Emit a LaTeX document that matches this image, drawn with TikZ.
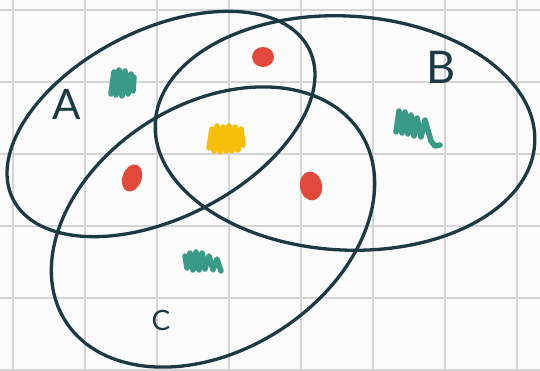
\documentclass[tikz,border=0pt]{standalone}
\usepackage{fontspec}
\setmainfont{Lato}
\usepackage{tikz}
\usetikzlibrary{positioning}
\definecolor{Ink}{HTML}{1B3A44}
\definecolor{Teal}{HTML}{3A9A88}
\definecolor{Tomato}{HTML}{E2493A}
\definecolor{Amber}{HTML}{F6BE0A}
\definecolor{Paper}{HTML}{FBFBFB}
\definecolor{Grid}{HTML}{D4D4D4}

\begin{document}
\begin{tikzpicture}[x=1pt,y=1pt,
    setline/.style={draw=Ink,line width=3.3pt},
    scribble/.style={line width=5.5pt,line cap=round,line join=round},
    blob/.style={fill=Tomato},
    setlabel/.style={text=Ink,inner sep=0pt}]
        \useasboundingbox (0,0) rectangle (540,370);
        \fill[Paper] (0,0) rectangle (540,370);
        \foreach \x in {13,85,...,517} \draw[Grid,line width=1.5pt] (\x,0)--(\x,370);
        \foreach \y in {0,72,...,360} \draw[Grid,line width=1.5pt] (0,\y)--(540,\y);
        % the three sets
        \coordinate (ca) at (161,246);
        \coordinate (cb) at (345,237);
        \coordinate (cc) at (213,143);
        \draw[setline,rotate around={27:(ca)}] (ca) ellipse [x radius=166,y radius=94];
        \draw[setline,rotate around={-3:(cb)}] (cb) ellipse [x radius=190,y radius=117];
        \draw[setline,rotate around={32.6:(cc)}] (cc) ellipse [x radius=175,y radius=123];
        \node[setlabel,font=\fontsize{42}{42}\selectfont] (la) at (67,266) {A};
        \node[setlabel,font=\fontsize{45}{45}\selectfont] (lb) at (441,303) {B};
        \node[setlabel,font=\fontsize{28}{28}\selectfont] (lc) at (161,50) {C};
        % marks in the regions
        \draw[scribble,Teal] (111,276)--(114,298)--(116,275)--(119,300)--(122,274)--(125,299)--(128,276)--(131,296)--(133,279)--(134,293);
        \draw[scribble,Amber] (209,222)--(212,241)--(214,219)--(217,244)--(220,218)--(223,243)--(226,219)--(229,244)--(232,219)--(235,243)--(238,220)--(241,241)--(243,225);
        \draw[scribble,Teal] (396,238)--(399,259)--(402,237)--(405,258)--(408,236)--(411,255)--(414,234)--(417,252)--(421,233)--(425,250)--(431,229)--(435,224)--(440,225);
        \draw[scribble,Teal] (185,114)--(187,102)--(190,117)--(193,100)--(196,118)--(199,100)--(202,117)--(205,101)--(209,114)--(213,100)--(217,111)--(221,99);
        \fill[blob,rotate around={-20:(132,192)}] (132,192) ellipse [x radius=9.5,y radius=14];
        \fill[blob] (263,313) ellipse [x radius=11,y radius=10];
        \fill[blob,rotate around={10:(311,184)}] (311,184) ellipse [x radius=11,y radius=14.5];
      \end{tikzpicture}
\end{document}
